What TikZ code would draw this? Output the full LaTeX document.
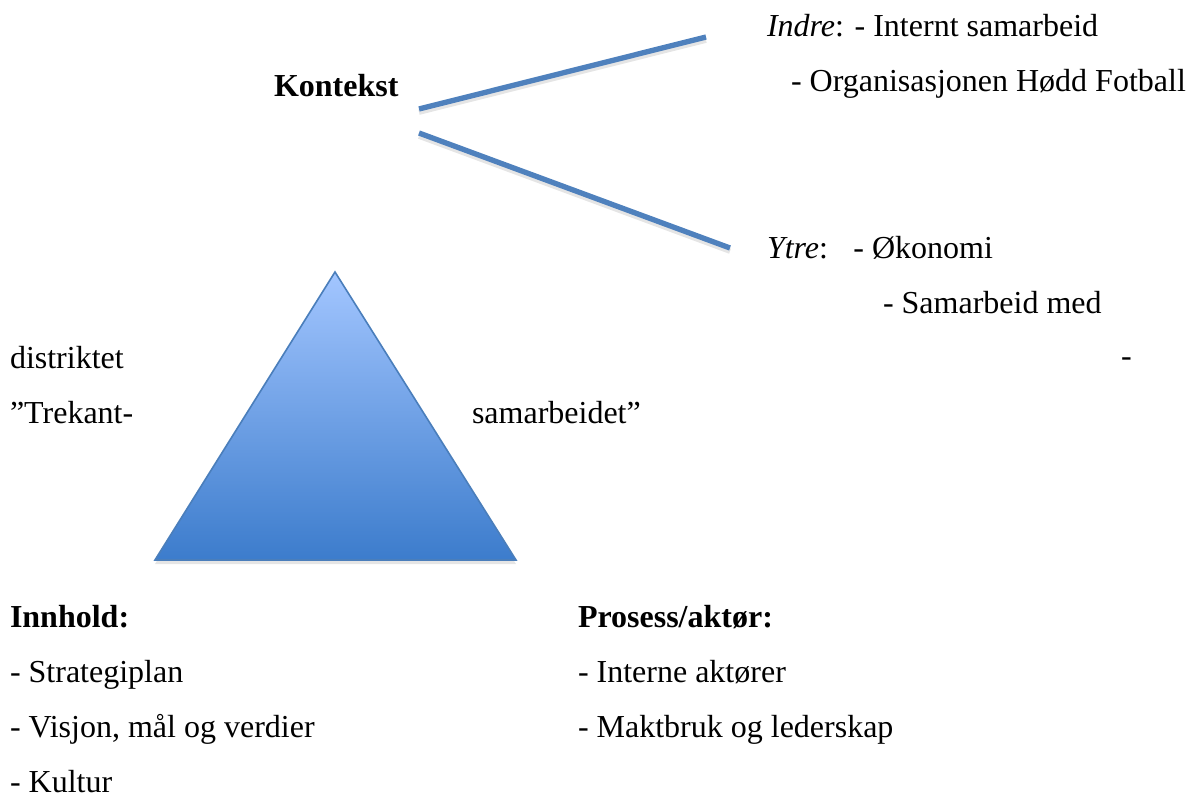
\documentclass[tikz,border=0pt]{standalone}
\usepackage{fontspec}
\setmainfont{Liberation Serif}
\usepackage{tikz}
\usetikzlibrary{positioning}
\definecolor{linkblue}{HTML}{4F81BD}
\definecolor{tribord}{HTML}{4A7EBB}
\definecolor{tritop}{HTML}{A3C6FF}
\definecolor{tribot}{HTML}{3C7CCC}

\begin{document}
\begin{tikzpicture}[
    x=0.375pt,
    y=-0.375pt,
    font=\fontsize{12pt}{14pt}\selectfont,
    txt/.style={anchor=base west, inner sep=0pt, outer sep=0pt},
    link/.style={line width=2pt, draw=linkblue, line cap=butt},
    shadowline/.style={line width=2pt, draw=black!10, line cap=butt}
  ]
    \useasboundingbox (0,0) rectangle (1192,795);

    % kontekst og forgreiningar
    \node[txt, font=\fontsize{12pt}{14pt}\selectfont\bfseries] (kontekst) at (274,97) {Kontekst};
    \node[txt] (indre) at (767,37) {\textit{Indre}: - Internt samarbeid};
    \node[txt] (org) at (791,92) {- Organisasjonen Hødd Fotball};
    \node[txt] (ytre) at (767,258) {\makebox[2.7em][l]{\textit{Ytre}:}- Økonomi};
    \node[txt] (samarb) at (883,313) {- Samarbeid med};
    \node[txt] (distr) at (10,368) {distriktet};
    \node[txt] (dash) at (1121,366) {-};
    \node[txt] (trek) at (10,423) {”Trekant-};
    \node[txt] (trekb) at (472,423) {samarbeidet”};

    \coordinate (kup) at (419,109);
    \coordinate (kdown) at (419,133);
    \coordinate (indreend) at (706,37);
    \coordinate (ytreend) at (730,248);

    \draw[shadowline] ([yshift=-1.2pt]kup) -- ([yshift=-1.2pt]indreend);
    \draw[shadowline] ([yshift=-1.2pt]kdown) -- ([yshift=-1.2pt]ytreend);
    \draw[link] (kup) -- (indreend);
    \draw[link] (kdown) -- (ytreend);

    % trekanten
    \coordinate (apex) at (335,272);
    \coordinate (bl) at (155,560);
    \coordinate (br) at (516,560);
    \fill[black!10] ([yshift=-1.5pt]apex) -- ([yshift=-1.5pt]bl) -- ([yshift=-1.5pt]br) -- cycle;
    \path[draw=tribord, line width=0.6pt, top color=tritop, bottom color=tribot]
      (apex) -- (bl) -- (br) -- cycle;

    % innhald og prosess
    \node[txt, font=\fontsize{12pt}{14pt}\selectfont\bfseries] (innhold) at (10,627) {Innhold:};
    \node[txt] (strat) at (10,682) {- Strategiplan};
    \node[txt] (visjon) at (10,737) {- Visjon, mål og verdier};
    \node[txt] (kultur) at (10,792) {- Kultur};

    \node[txt, font=\fontsize{12pt}{14pt}\selectfont\bfseries] (prosess) at (578,627) {Prosess/aktør:};
    \node[txt] (interne) at (578,682) {- Interne aktører};
    \node[txt] (makt) at (578,737) {- Maktbruk og lederskap};
  \end{tikzpicture}
\end{document}
